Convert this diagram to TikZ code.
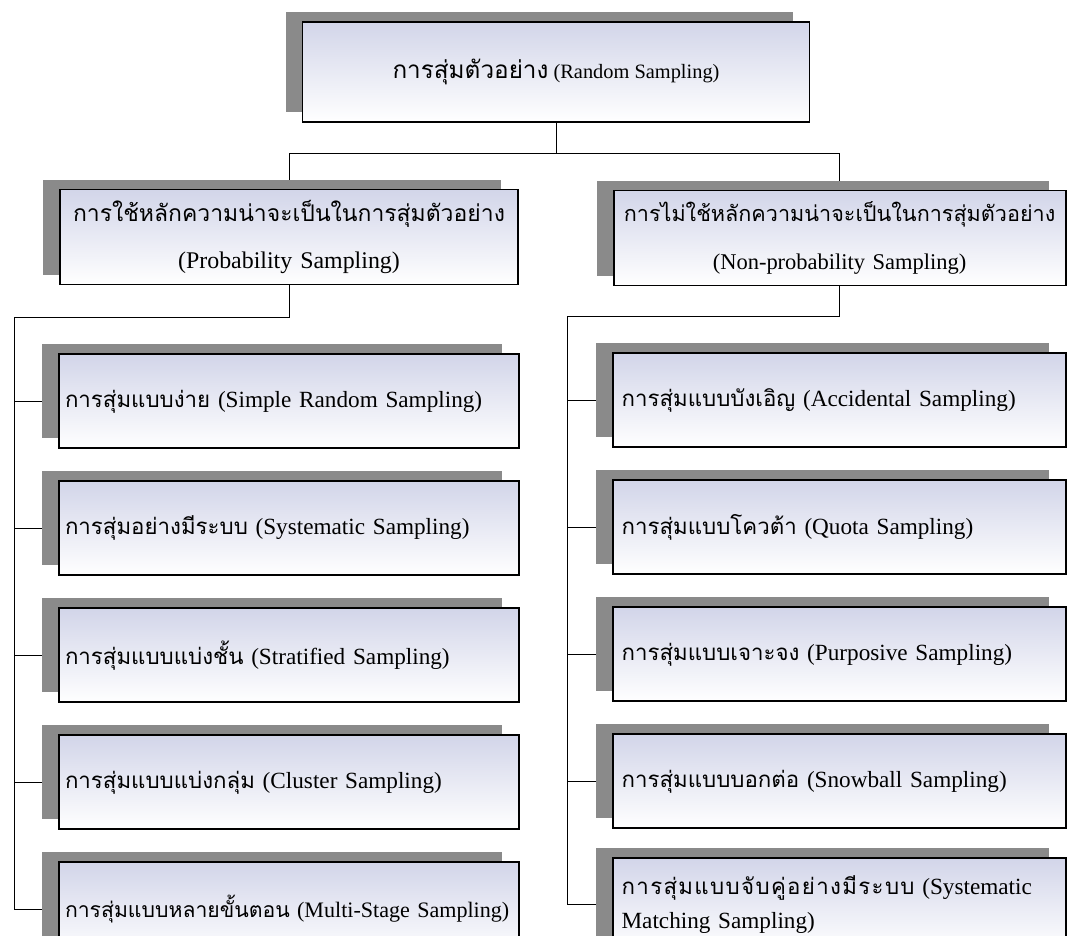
\documentclass[tikz,border=0pt]{standalone}
\usepackage{fontspec}
\setmainfont{Liberation Serif}
\newfontfamily\thaifont[Script=Thai, Scale=0.96]{Loma}
\newfontfamily\thaiwide[Script=Thai, Scale=0.96, LetterSpace=6]{Loma}
\usetikzlibrary{positioning, shadows, backgrounds}
\definecolor{boxtint}{RGB}{210,213,233}
\definecolor{shadowgray}{RGB}{138,138,138}
\newcommand{\thtxt}[1]{{\thaifont #1}}

\begin{document}
\begin{tikzpicture}[node distance=0.775cm]
    \tikzstyle{box} = [rectangle, draw=black, line width=1.4pt, top color=boxtint, middle color=boxtint!50, bottom color=white,
        drop shadow={shadow xshift=-0.425cm, shadow yshift=0.25cm, fill=shadowgray, opacity=1}]
    \tikzstyle{rootbox} = [box, minimum width=12.675cm, minimum height=2.5cm, font=\fontsize{14.5}{20}\selectfont]
    \tikzstyle{groupbox} = [box, text width=11.2cm, align=center, minimum height=2.375cm, font=\fontsize{17}{34}\selectfont]
    \tikzstyle{leftleaf} = [box, text width=11.2cm, inner xsep=0.15cm, align=left, minimum height=2.35cm, font=\fontsize{16.5}{27}\selectfont]
    \tikzstyle{rightleaf} = [box, text width=10.9cm, inner xsep=0.22cm, align=left, minimum height=2.35cm, font=\fontsize{16.5}{27}\selectfont]

    \useasboundingbox (0,0) rectangle (26.7,-23.375);

    \node (root)    [rootbox]  at (13.9,-1.8) {{\fontsize{18}{20}\selectfont\thaifont การสุ่มตัวอย่าง} (Random Sampling)};
    \node (prob)    [groupbox] at (7.225,-5.925)
        {\thtxt{การใช้หลักความน่าจะเป็นในการสุ่มตัวอย่าง}\\(Probability Sampling)};
    \node (nonprob) [groupbox, text width=11.3cm, inner xsep=0pt, font=\fontsize{16}{34}\selectfont] at (20.99,-5.95)
        {\thtxt{การไม่ใช้หลักความน่าจะเป็นในการสุ่มตัวอย่าง}\\(Non-probability Sampling)};

    \node (pl1) [leftleaf, below=1.7cm of prob] {\thtxt{การสุ่มแบบง่าย} (Simple Random Sampling)};
    \node (pl2) [leftleaf, below=of pl1] {\thtxt{การสุ่มอย่างมีระบบ} (Systematic Sampling)};
    \node (pl3) [leftleaf, below=of pl2] {\thtxt{การสุ่มแบบแบ่งชั้น} (Stratified Sampling)};
    \node (pl4) [leftleaf, below=of pl3] {\thtxt{การสุ่มแบบแบ่งกลุ่ม} (Cluster Sampling)};
    \node (pl5) [leftleaf, below=of pl4, font=\fontsize{15.7}{27}\selectfont] {\mbox{\thtxt{การสุ่มแบบหลายขั้นตอน} (Multi-Stage Sampling)}};

    \node (nl1) [rightleaf, below=1.65cm of nonprob] {\thtxt{การสุ่มแบบบังเอิญ} (Accidental Sampling)};
    \node (nl2) [rightleaf, below=of nl1] {\thtxt{การสุ่มแบบโควต้า} (Quota Sampling)};
    \node (nl3) [rightleaf, below=of nl2] {\thtxt{การสุ่มแบบเจาะจง} (Purposive Sampling)};
    \node (nl4) [rightleaf, below=of nl3] {\thtxt{การสุ่มแบบบอกต่อ} (Snowball Sampling)};
    \node (nl5) [rightleaf, below=0.68cm of nl4, font=\fontsize{16.5}{24}\selectfont] {{\thaiwide การสุ่มแบบจับคู่อย่างมีระบบ} (Systematic\\Matching Sampling)};

    \coordinate (ptrunk) at ([xshift=-1.1cm]pl5.west);
    \coordinate (ntrunk) at ([xshift=-1.125cm]nl5.west);

    % tree lines, kept behind the boxes
    \begin{scope}[on background layer, line width=1.4pt]
        \draw (root.south) -- ++(0,-0.75) -| (prob.north);
        \draw (root.south) -- ++(0,-0.75) -| (nonprob.north);
        \draw (prob.south) -- ++(0,-0.8) -| (ptrunk) -- (pl5.west);
        \draw (pl1.west) -- (pl1.west -| ptrunk);
        \draw (pl2.west) -- (pl2.west -| ptrunk);
        \draw (pl3.west) -- (pl3.west -| ptrunk);
        \draw (pl4.west) -- (pl4.west -| ptrunk);
        \draw (nonprob.south) -- ++(0,-0.75) -| (ntrunk) -- (nl5.west);
        \draw (nl1.west) -- (nl1.west -| ntrunk);
        \draw (nl2.west) -- (nl2.west -| ntrunk);
        \draw (nl3.west) -- (nl3.west -| ntrunk);
        \draw (nl4.west) -- (nl4.west -| ntrunk);
    \end{scope}
\end{tikzpicture}
\end{document}
